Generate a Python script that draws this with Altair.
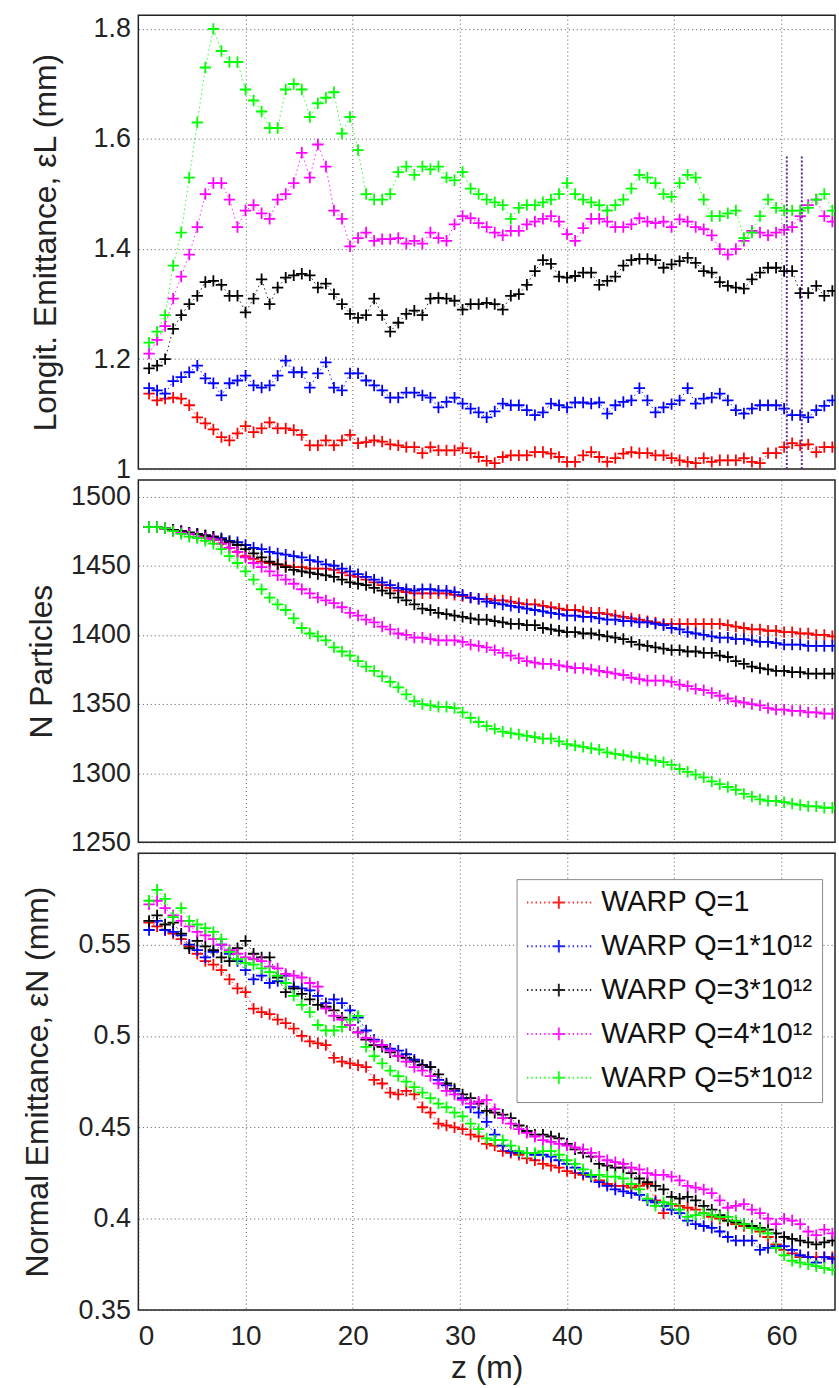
import altair as alt
import pandas as pd

# ---------------- data ----------------
Z = [1.0, 1.75, 2.5, 3.25, 4.0, 4.75, 5.5, 6.25, 7.0, 7.75, 8.5, 9.25, 10.0, 10.75, 11.5, 12.25,
     13.0, 13.75, 14.5, 15.25, 16.0, 16.75, 17.5, 18.25, 19.0, 19.75, 20.5, 21.25, 22.0, 22.75,
     23.5, 24.25, 25.0, 25.75, 26.5, 27.25, 28.0, 28.75, 29.5, 30.25, 31.0, 31.75, 32.5, 33.25,
     34.0, 34.75, 35.5, 36.25, 37.0, 37.75, 38.5, 39.25, 40.0, 40.75, 41.5, 42.25, 43.0, 43.75,
     44.5, 45.25, 46.0, 46.75, 47.5, 48.25, 49.0, 49.75, 50.5, 51.25, 52.0, 52.75, 53.5, 54.25,
     55.0, 55.75, 56.5, 57.25, 58.0, 58.75, 59.5, 60.25, 61.0, 61.75, 62.5, 63.25, 64.0, 64.75]

SERIES = ["WARP Q=1", "WARP Q=1*10¹²", "WARP Q=3*10¹²", "WARP Q=4*10¹²", "WARP Q=5*10¹²"]
COLORS = ["#ff0000", "#0000ff", "#000000", "#ff00ff", "#00ff00"]

# Longitudinal emittance (mm)
L_RED = [1.137, 1.125, 1.128, 1.13, 1.128, 1.116, 1.094, 1.083, 1.072, 1.058, 1.052, 1.065, 1.078, 1.067,
         1.074, 1.085, 1.074, 1.074, 1.071, 1.062, 1.043, 1.043, 1.052, 1.043, 1.052, 1.062, 1.047, 1.049,
         1.052, 1.05, 1.045, 1.043, 1.04, 1.04, 1.029, 1.04, 1.034, 1.034, 1.034, 1.038, 1.029, 1.022,
         1.015, 1.011, 1.022, 1.025, 1.025, 1.025, 1.031, 1.031, 1.028, 1.022, 1.013, 1.013, 1.025, 1.031,
         1.022, 1.013, 1.02, 1.028, 1.031, 1.029, 1.029, 1.025, 1.025, 1.02, 1.016, 1.013, 1.011, 1.02,
         1.013, 1.016, 1.016, 1.016, 1.02, 1.013, 1.011, 1.029, 1.029, 1.04, 1.047, 1.043, 1.045, 1.031,
         1.04, 1.04]
L_BLUE = [1.147, 1.143, 1.137, 1.16, 1.167, 1.176, 1.188, 1.165, 1.156, 1.134, 1.156, 1.161, 1.17, 1.152,
          1.148, 1.152, 1.17, 1.197, 1.176, 1.176, 1.148, 1.174, 1.194, 1.148, 1.143, 1.174, 1.174, 1.161,
          1.152, 1.143, 1.13, 1.13, 1.139, 1.139, 1.134, 1.13, 1.112, 1.122, 1.13, 1.119, 1.11, 1.103,
          1.094, 1.105, 1.119, 1.116, 1.116, 1.107, 1.098, 1.103, 1.119, 1.116, 1.112, 1.121, 1.121, 1.119,
          1.121, 1.101, 1.116, 1.122, 1.125, 1.147, 1.125, 1.103, 1.112, 1.118, 1.125, 1.147, 1.119, 1.128,
          1.13, 1.137, 1.125, 1.107, 1.101, 1.11, 1.116, 1.116, 1.116, 1.11, 1.098, 1.098, 1.094, 1.107,
          1.115, 1.125]
L_BLACK = [1.183, 1.188, 1.2, 1.255, 1.28, 1.3, 1.315, 1.34, 1.342, 1.335, 1.315, 1.315, 1.285, 1.31,
           1.345, 1.3, 1.33, 1.348, 1.352, 1.355, 1.352, 1.33, 1.337, 1.318, 1.3, 1.282, 1.275, 1.28,
           1.31, 1.28, 1.25, 1.266, 1.282, 1.288, 1.28, 1.31, 1.311, 1.31, 1.306, 1.29, 1.3, 1.3,
           1.302, 1.3, 1.29, 1.315, 1.318, 1.335, 1.36, 1.38, 1.373, 1.35, 1.348, 1.351, 1.357, 1.357,
           1.335, 1.342, 1.35, 1.37, 1.38, 1.382, 1.382, 1.38, 1.366, 1.372, 1.378, 1.384, 1.375, 1.36,
           1.357, 1.34, 1.333, 1.33, 1.328, 1.345, 1.357, 1.366, 1.366, 1.36, 1.36, 1.32, 1.32, 1.333,
           1.315, 1.324]
L_MAGENTA = [1.21, 1.235, 1.26, 1.31, 1.35, 1.39, 1.44, 1.5, 1.52, 1.52, 1.49, 1.44, 1.47, 1.48,
             1.465, 1.455, 1.49, 1.5, 1.52, 1.575, 1.53, 1.59, 1.55, 1.47, 1.455, 1.405, 1.42, 1.43,
             1.415, 1.418, 1.418, 1.42, 1.41, 1.415, 1.41, 1.43, 1.42, 1.415, 1.445, 1.46, 1.456, 1.447,
             1.44, 1.43, 1.425, 1.433, 1.433, 1.445, 1.45, 1.455, 1.46, 1.45, 1.427, 1.415, 1.438, 1.455,
             1.455, 1.45, 1.44, 1.44, 1.445, 1.456, 1.45, 1.447, 1.45, 1.44, 1.454, 1.45, 1.44, 1.436,
             1.425, 1.4, 1.39, 1.4, 1.415, 1.433, 1.43, 1.425, 1.43, 1.435, 1.44, 1.46, 1.48, 1.49,
             1.46, 1.45]
L_GREEN = [1.23, 1.25, 1.28, 1.37, 1.43, 1.53, 1.63, 1.73, 1.8, 1.76, 1.74, 1.74, 1.69, 1.67,
           1.65, 1.62, 1.62, 1.69, 1.7, 1.69, 1.64, 1.665, 1.675, 1.685, 1.61, 1.64, 1.58, 1.5,
           1.49, 1.49, 1.5, 1.54, 1.55, 1.535, 1.55, 1.545, 1.55, 1.53, 1.525, 1.54, 1.51, 1.5,
           1.49, 1.485, 1.48, 1.455, 1.475, 1.48, 1.48, 1.485, 1.49, 1.5, 1.52, 1.5, 1.49, 1.485,
           1.48, 1.47, 1.48, 1.49, 1.51, 1.535, 1.53, 1.52, 1.5, 1.495, 1.52, 1.535, 1.53, 1.49,
           1.46, 1.46, 1.465, 1.47, 1.42, 1.43, 1.46, 1.49, 1.475, 1.47, 1.47, 1.47, 1.475, 1.49,
           1.5, 1.47]

# Number of particles
N_RED = [1478, 1478, 1477, 1476, 1475, 1474, 1473, 1471, 1469, 1466, 1463, 1460, 1457, 1455, 1453, 1452,
         1451, 1450, 1449, 1449, 1448, 1448, 1448, 1447, 1445, 1443, 1442, 1440, 1438, 1436, 1434, 1432,
         1431, 1430, 1430, 1430, 1430, 1430, 1429, 1428, 1427, 1426, 1426, 1425, 1425, 1424, 1423, 1422,
         1422, 1421, 1420, 1419, 1418, 1418, 1417, 1416, 1416, 1415, 1414, 1413, 1412, 1411, 1410, 1409,
         1408, 1408, 1408, 1408, 1408, 1408, 1408, 1408, 1407, 1406, 1405, 1404, 1404, 1403, 1403, 1402,
         1402, 1401, 1401, 1400, 1400, 1399]
N_BLUE = [1478, 1478, 1477, 1476, 1475, 1474, 1473, 1472, 1471, 1470, 1468, 1467, 1465, 1463, 1462, 1460,
          1459, 1458, 1457, 1456, 1454, 1453, 1451, 1450, 1448, 1446, 1444, 1442, 1440, 1438, 1436, 1434,
          1433, 1432, 1433, 1433, 1432, 1432, 1431, 1429, 1427, 1426, 1424, 1423, 1422, 1421, 1420, 1419,
          1418, 1417, 1416, 1415, 1414, 1414, 1413, 1413, 1412, 1411, 1411, 1410, 1410, 1409, 1409, 1408,
          1407, 1405, 1404, 1402, 1401, 1400, 1399, 1398, 1398, 1397, 1397, 1396, 1395, 1395, 1394, 1393,
          1393, 1393, 1392, 1392, 1392, 1392]
N_BLACK = [1478, 1478, 1477, 1476, 1475, 1474, 1473, 1472, 1471, 1469, 1467, 1465, 1462, 1459, 1456, 1453,
           1451, 1449, 1447, 1446, 1445, 1444, 1443, 1442, 1440, 1438, 1437, 1436, 1434, 1432, 1430, 1427,
           1425, 1422, 1419, 1418, 1416, 1415, 1414, 1413, 1412, 1411, 1411, 1410, 1409, 1408, 1408, 1407,
           1407, 1405, 1404, 1403, 1402, 1402, 1401, 1401, 1400, 1399, 1398, 1397, 1395, 1393, 1392, 1391,
           1390, 1389, 1389, 1388, 1388, 1387, 1387, 1385, 1384, 1381, 1379, 1377, 1376, 1375, 1374, 1374,
           1373, 1373, 1372, 1372, 1372, 1372]
N_MAGENTA = [1478, 1478, 1477, 1475, 1474, 1473, 1471, 1470, 1469, 1466, 1463, 1460, 1456, 1452, 1449, 1446,
             1443, 1440, 1437, 1433, 1430, 1427, 1425, 1423, 1420, 1416, 1414, 1411, 1409, 1406, 1404, 1401,
             1400, 1398, 1398, 1397, 1396, 1396, 1396, 1395, 1393, 1392, 1391, 1389, 1387, 1385, 1383, 1381,
             1380, 1379, 1379, 1378, 1377, 1376, 1376, 1375, 1374, 1373, 1372, 1371, 1369, 1368, 1367, 1367,
             1367, 1366, 1364, 1363, 1361, 1360, 1358, 1356, 1354, 1352, 1351, 1350, 1349, 1347, 1346, 1346,
             1345, 1345, 1344, 1344, 1343, 1343]
N_GREEN = [1478, 1478, 1477, 1475, 1473, 1471, 1470, 1468, 1466, 1462, 1457, 1452, 1446, 1440, 1433, 1427,
           1422, 1418, 1412, 1405, 1401, 1399, 1396, 1391, 1388, 1385, 1381, 1377, 1374, 1370, 1366, 1362,
           1357, 1352, 1350, 1349, 1348, 1348, 1347, 1344, 1340, 1337, 1334, 1332, 1330, 1329, 1328, 1327,
           1326, 1325, 1325, 1323, 1321, 1320, 1319, 1318, 1317, 1315, 1314, 1313, 1312, 1311, 1310, 1309,
           1308, 1306, 1303, 1301, 1299, 1297, 1294, 1292, 1290, 1288, 1285, 1283, 1281, 1280, 1280, 1279,
           1278, 1277, 1276, 1276, 1275, 1275]

# Normal emittance (mm)
E_RED = [0.562, 0.56, 0.558, 0.556, 0.553, 0.549, 0.545, 0.541, 0.539, 0.536, 0.531, 0.526, 0.524, 0.515,
         0.513, 0.512, 0.509, 0.507, 0.504, 0.5, 0.497, 0.496, 0.495, 0.488, 0.486, 0.485, 0.484, 0.483,
         0.476, 0.474, 0.469, 0.468, 0.47, 0.468, 0.461, 0.458, 0.452, 0.451, 0.45, 0.449, 0.446, 0.445,
         0.441, 0.44, 0.437, 0.436, 0.435, 0.433, 0.432, 0.43, 0.429, 0.428, 0.426, 0.425, 0.424, 0.423,
         0.421, 0.419, 0.418, 0.418, 0.417, 0.418, 0.419, 0.41, 0.403, 0.408, 0.407, 0.406, 0.405, 0.403,
         0.401, 0.4, 0.399, 0.397, 0.396, 0.395, 0.393, 0.39, 0.386, 0.383, 0.381, 0.379, 0.379, 0.379,
         0.379, 0.379]
E_BLUE = [0.558, 0.563, 0.558, 0.557, 0.555, 0.55, 0.547, 0.543, 0.546, 0.55, 0.545, 0.541, 0.536, 0.531,
          0.533, 0.529, 0.53, 0.533, 0.527, 0.526, 0.525, 0.522, 0.518, 0.52, 0.518, 0.514, 0.51, 0.503,
          0.498, 0.495, 0.493, 0.492, 0.49, 0.487, 0.484, 0.483, 0.476, 0.473, 0.47, 0.466, 0.461, 0.458,
          0.453, 0.446, 0.44, 0.437, 0.436, 0.436, 0.435, 0.435, 0.434, 0.432, 0.43, 0.428, 0.425, 0.423,
          0.42, 0.418, 0.416, 0.415, 0.414, 0.413, 0.41, 0.409, 0.407, 0.405, 0.403, 0.399, 0.397, 0.396,
          0.395, 0.393, 0.39, 0.388, 0.388, 0.388, 0.383, 0.384, 0.385, 0.385, 0.383, 0.38, 0.379, 0.376,
          0.379, 0.378]
E_BLACK = [0.563, 0.566, 0.561, 0.562, 0.556, 0.548, 0.552, 0.549, 0.547, 0.543, 0.541, 0.548, 0.552, 0.545,
           0.543, 0.543, 0.532, 0.524, 0.526, 0.523, 0.52, 0.517, 0.516, 0.514, 0.51, 0.506, 0.502, 0.498,
           0.495, 0.494, 0.491, 0.489, 0.488, 0.486, 0.484, 0.483, 0.479, 0.474, 0.471, 0.468, 0.466, 0.463,
           0.459, 0.458, 0.457, 0.455, 0.451, 0.448, 0.446, 0.446, 0.445, 0.444, 0.441, 0.438, 0.436, 0.434,
           0.43, 0.429, 0.428, 0.428, 0.425, 0.422, 0.42, 0.418, 0.416, 0.412, 0.411, 0.412, 0.41, 0.407,
           0.405, 0.402, 0.399, 0.398, 0.397, 0.396, 0.395, 0.394, 0.392, 0.39, 0.389, 0.388, 0.387, 0.386,
           0.387, 0.388]
E_MAGENTA = [0.572, 0.574, 0.57, 0.566, 0.563, 0.56, 0.557, 0.555, 0.553, 0.55, 0.547, 0.545, 0.543, 0.542,
             0.541, 0.538, 0.537, 0.534, 0.533, 0.532, 0.529, 0.527, 0.515, 0.511, 0.509, 0.506, 0.502, 0.499,
             0.497, 0.495, 0.492, 0.489, 0.486, 0.483, 0.481, 0.478, 0.474, 0.47, 0.468, 0.465, 0.463, 0.464,
             0.465, 0.46, 0.455, 0.452, 0.449, 0.447, 0.445, 0.443, 0.442, 0.441, 0.44, 0.439, 0.438, 0.436,
             0.434, 0.432, 0.431, 0.43, 0.428, 0.427, 0.425, 0.424, 0.424, 0.423, 0.421, 0.418, 0.417, 0.416,
             0.414, 0.41, 0.406, 0.407, 0.408, 0.405, 0.403, 0.4, 0.397, 0.4, 0.399, 0.397, 0.393, 0.391,
             0.394, 0.392]
E_GREEN = [0.574, 0.58, 0.575, 0.565, 0.57, 0.563, 0.561, 0.559, 0.557, 0.553, 0.546, 0.542, 0.54, 0.539,
           0.537, 0.535, 0.533, 0.529, 0.522, 0.517, 0.513, 0.506, 0.503, 0.503, 0.505, 0.509, 0.511, 0.494,
           0.489, 0.485, 0.481, 0.478, 0.475, 0.472, 0.469, 0.466, 0.463, 0.461, 0.458, 0.456, 0.452, 0.449,
           0.444, 0.443, 0.443, 0.44, 0.437, 0.436, 0.436, 0.437, 0.437, 0.435, 0.432, 0.43, 0.427, 0.424,
           0.424, 0.423, 0.423, 0.422, 0.419, 0.416, 0.411, 0.407, 0.409, 0.408, 0.405, 0.401, 0.402, 0.403,
           0.402, 0.401, 0.401, 0.399, 0.397, 0.395, 0.394, 0.392, 0.384, 0.38, 0.377, 0.376, 0.375, 0.374,
           0.373, 0.372]

# stray vertical dotted traces in the top panel
ART_Z = [60.5, 61.9]
ART_LO = [1.0, 1.0]
ART_HI = [1.57, 1.57]


def long(arrs):
    rows = []
    for s, arr in zip(SERIES, arrs):
        for z, v in zip(Z, arr):
            rows.append({"z": z, "v": v, "series": s})
    return pd.DataFrame(rows)


df_l = long([L_RED, L_BLUE, L_BLACK, L_MAGENTA, L_GREEN])
df_n = long([N_RED, N_BLUE, N_BLACK, N_MAGENTA, N_GREEN])
df_e = long([E_RED, E_BLUE, E_BLACK, E_MAGENTA, E_GREEN])
df_art = pd.DataFrame({"z": ART_Z, "lo": ART_LO, "hi": ART_HI})

# ---------------- styling ----------------
FONT = "Liberation Sans"
CROSS = "M-1,0L1,0M0,-1L0,1"
# legend glyph: dotted line with a cross in the middle (unit radius = 13.5 px)
dots = [-2.37, -2.05, -1.73, -1.41, -1.09, -0.77, 0.71, 1.03, 1.35, 1.67, 1.99, 2.31]
LEG_SYM = "".join(f"M{d:.2f},0L{d + 0.1:.2f},0" for d in dots) + "M-0.47,0L0.47,0M0,-0.47L0,0.47"

W = 700
color_scale = alt.Scale(domain=SERIES, range=COLORS)
XDOM = alt.Scale(domain=[0, 65], nice=False, zero=False)
GRID = dict(grid=True, gridColor="#444", gridDash=[1, 3], gridOpacity=0.9, gridWidth=1)


def x_hidden():
    return alt.X("z:Q", scale=XDOM,
                 axis=alt.Axis(values=[10, 20, 30, 40, 50, 60], labels=False, ticks=False,
                               domain=False, title=None, **GRID))


def y_axis(title, values, domain, tpad, fmt):
    return alt.Y("v:Q", scale=alt.Scale(domain=domain, nice=False, zero=False),
                 axis=alt.Axis(values=values, format=fmt, title=title, titlePadding=tpad,
                               ticks=False, tickSize=0, labelPadding=8, domain=False,
                               labelFontSize=27, **GRID))


def panel(df, x_enc, y_enc, h, legend=None):
    color = alt.Color("series:N", scale=color_scale, legend=legend, sort=SERIES)
    base = alt.Chart(df)
    lines = base.mark_line(strokeDash=[1.5, 3], strokeWidth=1, opacity=0.85, clip=True).encode(
        x=x_enc, y=y_enc, color=color, detail="series:N")
    pts = base.mark_point(shape=CROSS, filled=False, size=130, strokeWidth=1.8, opacity=1,
                          clip=True).encode(x=x_enc, y=y_enc, color=color)
    return alt.layer(lines, pts).properties(width=W, height=h)


p1_y = y_axis("Longit. Emittance, εL (mm)", [1, 1.2, 1.4, 1.6, 1.8], [1.0, 1.825], 31, "~g")
p1 = panel(df_l, x_hidden(), p1_y, 456)
art = alt.Chart(df_art).mark_rule(strokeDash=[2, 2], strokeWidth=2, color="#5a2c8c", clip=True).encode(
    x=alt.X("z:Q", scale=XDOM), y=alt.Y("lo:Q"), y2="hi:Q")
p1 = alt.layer(p1, art)

p2_y = y_axis("N Particles", [1250, 1300, 1350, 1400, 1450, 1500], [1250, 1512], 12, "d")
p2 = panel(df_n, x_hidden(), p2_y, 364)

x_bottom = alt.X("z:Q", scale=XDOM,
                 axis=alt.Axis(values=[0, 10, 20, 30, 40, 50, 60], title="z (m)", ticks=False,
                               tickSize=0, labelPadding=13, titlePadding=2, domain=False, **GRID))
p3_y = alt.Y("v:Q", scale=alt.Scale(domain=[0.35, 0.6], nice=False, zero=False),
             axis=alt.Axis(values=[0.35, 0.4, 0.45, 0.5, 0.55, 0.6],
                           labelExpr="datum.value > 0.59 ? '' : format(datum.value, '~g')",
                           title="Normal Emittance, εN (mm)", titlePadding=24, ticks=False,
                           tickSize=0, labelPadding=8, domain=False, labelFontSize=27, **GRID))
leg = alt.Legend(title=None, orient="none", legendX=380, legendY=26, fillColor="white",
                 strokeColor="#8a8a8a", padding=9, labelFont=FONT, labelFontSize=29,
                 labelColor="#111", symbolType=LEG_SYM, symbolSize=729, symbolStrokeWidth=2,
                 symbolFillColor="transparent", symbolOffset=19, labelOffset=28, rowPadding=14,
                 labelLimit=400)
p3 = panel(df_e, x_bottom, p3_y, 459, legend=leg)

chart = alt.vconcat(p1, p2, p3, spacing=11, bounds="flush").resolve_legend(
    color="independent").properties(
    padding={"left": 20, "top": 11, "right": 3, "bottom": 4},
    background="white",
).configure_view(stroke="#222", strokeWidth=1.5).configure_axis(
    labelFont=FONT, titleFont=FONT, labelFontSize=28, titleFontSize=32, titleFontWeight="normal",
    labelColor="#222", titleColor="#222")

chart.save("out.html", embed_options={"renderer": "svg", "actions": False})
